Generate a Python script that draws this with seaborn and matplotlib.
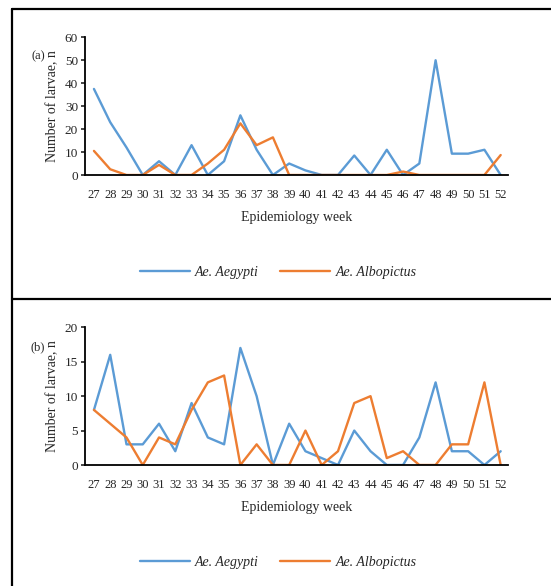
import numpy as np
import pandas as pd
import matplotlib
matplotlib.use("Agg")
import matplotlib.pyplot as plt
from matplotlib.lines import Line2D
import seaborn as sns

weeks = list(range(27, 53))

# panel (a)
aegypti_a = [37.5, 23, 12, 0, 6, 0, 13, 0, 6, 26, 11, 0, 5, 2, 0, 0,
             8.5, 0, 11, 0, 5, 50, 9.3, 9.3, 11, 0]
albopictus_a = [10.5, 2.5, 0, 0, 4.4, 0, 0, 5, 11, 22.5, 13, 16.4, 0, 0, 0, 0,
                0, 0, 0, 1.5, 0, 0, 0, 0, 0, 8.7]

# panel (b)
aegypti_b = [8, 16, 3, 3, 6, 2, 9, 4, 3, 17, 10, 0, 6, 2, 1, 0,
             5, 2, 0, 0, 4, 12, 2, 2, 0, 2]
albopictus_b = [8, 6, 4, 0, 4, 3, 8, 12, 13, 0, 3, 0, 0, 5, 0, 2,
                9, 10, 1, 2, 0, 0, 3, 3, 12, 0]

species = ["Ae. Aegypti", "Ae. Albopictus"]
colors = ["#5B9BD5", "#ED7D31"]

sns.set_style("white")
plt.rcParams["font.family"] = ["Liberation Serif", "DejaVu Serif"]

fig = plt.figure(figsize=(5.51, 5.86), dpi=100)
W, H = 551, 586


def to_long(a, b):
    return pd.DataFrame({
        "week": weeks * 2,
        "count": a + b,
        "species": [species[0]] * len(weeks) + [species[1]] * len(weeks),
    })


panels = [
    ("(a)", to_long(aegypti_a, albopictus_a), 60, 10, 175, 37.3, 56, 272.7),
    ("(b)", to_long(aegypti_b, albopictus_b), 20, 5, 465, 327.3, 347, 562.7),
]

for tag, df, ymax, step, y0, y1, tag_y, leg_y in panels:
    left, right = 85, 508
    ax = fig.add_axes([left / W, 1 - y0 / H, (right - left) / W, (y0 - y1) / H])
    sns.lineplot(data=df, x="week", y="count", hue="species", palette=colors,
                 linewidth=1.7, ax=ax, legend=False)
    ax.set_xlim(26.45, 52.45)
    ax.set_ylim(0, ymax)
    ax.set_xticks(weeks)
    ax.set_xticklabels([str(w) for w in weeks])
    ax.set_yticks(np.arange(0, ymax + 1, step))
    ax.tick_params(axis="x", length=0, labelsize=9, pad=10)
    ax.tick_params(axis="y", length=3, width=1.2, direction="out", labelsize=9.5, pad=2, left=True)
    for s in ["top", "right"]:
        ax.spines[s].set_visible(False)
    for s in ["left", "bottom"]:
        ax.spines[s].set_color("black")
        ax.spines[s].set_linewidth(1.3)
    ax.set_xlabel("Epidemiology week", fontsize=10, labelpad=7)
    ax.set_ylabel("Number of larvae, n", fontsize=10, labelpad=4)
    fig.text(38 / W, 1 - tag_y / H, tag, fontsize=9, ha="center", va="center")

    handles = [Line2D([], [], color=c, lw=1.7) for c in colors]
    fig.legend(handles, species, loc="center", bbox_to_anchor=(278 / W, 1 - leg_y / H),
               ncol=2, frameon=False, handlelength=3.6, columnspacing=1.5,
               handletextpad=0.4, prop={"style": "italic", "size": 10})

# panel borders
border = dict(color="black", lw=1.6, transform=fig.transFigure)
fig.add_artist(Line2D([11.5 / W, 1], [1 - 9 / H, 1 - 9 / H], **border))
fig.add_artist(Line2D([11.5 / W, 11.5 / W], [1 - 9 / H, 0], **border))
fig.add_artist(Line2D([11.5 / W, 1], [1 - 299 / H, 1 - 299 / H], **border))

fig.savefig("out.png", dpi=100)
